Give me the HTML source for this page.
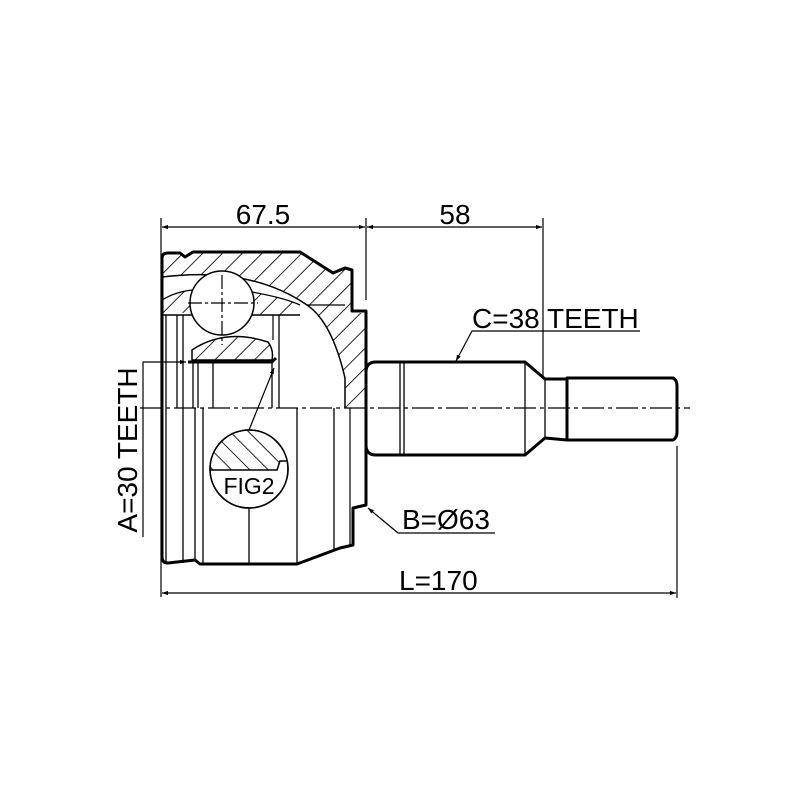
<!DOCTYPE html>
<html><head><meta charset="utf-8"><style>
html,body{margin:0;padding:0;background:#fff}
svg{display:block}
text{font-family:"Liberation Sans",Arial,sans-serif;fill:#000}
</style></head><body>
<svg width="800" height="800" viewBox="0 0 800 800" xmlns="http://www.w3.org/2000/svg">
<defs>
<pattern id="h" patternUnits="userSpaceOnUse" width="14" height="14" patternTransform="rotate(45)">
<line x1="0" y1="0" x2="0" y2="14" stroke="#000" stroke-width="1.7"/>
</pattern>
<pattern id="h2" patternUnits="userSpaceOnUse" width="13" height="13" patternTransform="rotate(-45)">
<line x1="0" y1="0" x2="0" y2="13" stroke="#000" stroke-width="1.7"/>
</pattern>
<marker id="a" viewBox="0 0 10 10" refX="10" refY="5" markerWidth="14" markerHeight="6" orient="auto-start-reverse" markerUnits="userSpaceOnUse">
<path d="M0,1.5 L10,5 L0,8.5 Z" fill="#000"/>
</marker>
</defs>
<rect width="800" height="800" fill="#fff"/>

<path d="M162,253 L180,253 L185,257 L193,252 L300,252 L333,273 L345,268 L352,270 L352,313 L366,313 L366,408 L345,408 L345,378 Q332,322 307,305 Q250,266 162,277 Z" fill="url(#h)" stroke="none"/>
<path d="M162,300 Q175,292 192,290 L192,312 L162,315 Z" fill="url(#h)"/>
<path d="M252,292 Q285,298 300,305 L300,315 L252,315 Z" fill="url(#h)"/>
<path d="M192,360 L192,350 Q225,328 268,342 Q274,350 272,360 Z" fill="url(#h)" stroke="#000" stroke-width="1.5"/>

<g fill="none" stroke="#000" stroke-linejoin="round">
<path d="M162,408 L162,258 Q162,253 168,253 L180,253 L185,257 L193,252 L300,252 L333,273 L345,268 L352,270 L352,311 L366,311 L366,505 L353,508 L353,545 L340,548 L297,564 L200,564 L195,560 L168,563 Q162,563 162,557 Z" stroke-width="3"/>
<path d="M162,277 Q250,266 307,305 Q332,322 345,378 L345,408" stroke-width="1.5"/>
<path d="M162,300 Q175,292 192,290" stroke-width="1.3"/>
<path d="M252,292 Q285,298 300,305" stroke-width="1.3"/>
<path d="M162,315 L300,315" stroke-width="1.5"/>
<line x1="307" y1="305" x2="345" y2="305" stroke-width="1.2"/>
<line x1="166" y1="315" x2="166" y2="408" stroke-width="1.3"/>
<line x1="177" y1="315" x2="177" y2="408" stroke-width="1.3"/>
<line x1="183" y1="315" x2="183" y2="408" stroke-width="1.3"/>
<line x1="193" y1="362" x2="193" y2="408" stroke-width="1.3"/>
<line x1="198" y1="362" x2="198" y2="408" stroke-width="1.3"/>
<line x1="213" y1="362" x2="213" y2="408" stroke-width="1.3"/>
<line x1="272" y1="362" x2="272" y2="408" stroke-width="1.3"/>
<line x1="279" y1="315" x2="279" y2="408" stroke-width="1.3"/>
<line x1="273" y1="315" x2="273" y2="340" stroke-width="1.2"/>
<path d="M188,362 L272,362 L276,358" stroke-width="3"/>
<circle cx="222" cy="303" r="32" fill="#fff" stroke-width="1.5"/>
<line x1="166" y1="408" x2="166" y2="563" stroke-width="1.3"/>
<line x1="183" y1="408" x2="183" y2="563" stroke-width="1.3"/>
<line x1="195" y1="408" x2="195" y2="560" stroke-width="1.3"/>
<line x1="203" y1="408" x2="203" y2="564" stroke-width="1.3"/>
<line x1="249" y1="508" x2="249" y2="564" stroke-width="1.3"/>
<line x1="297" y1="408" x2="297" y2="564" stroke-width="1.3"/>
<line x1="334" y1="408" x2="334" y2="549" stroke-width="1.3"/>
<line x1="350" y1="408" x2="350" y2="545" stroke-width="1.2"/>
<path d="M366,372 Q366,362 376,362 L525,362 L545,379 L567,379 L567,378 L673,378 Q677,380 677,386 L677,432 Q677,438 673,440 L567,440 L545,438 L525,455 L376,455 Q366,455 366,445" stroke-width="3"/>
<line x1="400" y1="362" x2="400" y2="455" stroke-width="1.3"/>
<line x1="404" y1="362" x2="404" y2="455" stroke-width="1.3"/>
<line x1="525" y1="362" x2="525" y2="455" stroke-width="1.3"/>
<line x1="545" y1="379" x2="545" y2="438" stroke-width="1.3"/>
<line x1="567" y1="378" x2="567" y2="440" stroke-width="3"/>
<line x1="140" y1="408" x2="690" y2="408" stroke-width="1.2" stroke-dasharray="22,4,4,4"/>
<line x1="188" y1="303" x2="258" y2="303" stroke-width="1.2" stroke-dasharray="14,3,3,3"/>
<line x1="222" y1="275" x2="222" y2="345" stroke-width="1.2" stroke-dasharray="14,3,3,3"/>
<line x1="161" y1="218" x2="161" y2="597" stroke-width="1.2"/>
<line x1="366" y1="218" x2="366" y2="300" stroke-width="1.2"/>
<line x1="543" y1="218" x2="543" y2="376" stroke-width="1.2"/>
<line x1="677" y1="446" x2="677" y2="598" stroke-width="1.2"/>
<line x1="162" y1="227" x2="365" y2="227" stroke-width="1.2" marker-start="url(#a)" marker-end="url(#a)"/>
<line x1="367" y1="227" x2="542" y2="227" stroke-width="1.2" marker-start="url(#a)" marker-end="url(#a)"/>
<line x1="162" y1="593" x2="676" y2="593" stroke-width="1.2" marker-start="url(#a)" marker-end="url(#a)"/>
<path d="M143,537 L143,362 L186,362" stroke-width="1.2" marker-end="url(#a)"/>
<path d="M640,331 L472,331 L456,361" stroke-width="1.2" marker-end="url(#a)"/>
<path d="M495,533 L398,533 L368,508" stroke-width="1.2" marker-end="url(#a)"/>
<path d="M249,430 L274,368" stroke-width="1.2" marker-end="url(#a)"/>
</g>
<circle cx="249" cy="469" r="39" fill="#fff" stroke="#000" stroke-width="1.5"/>
<clipPath id="fc"><circle cx="249" cy="469" r="39"/></clipPath>
<path d="M200,470 L277,470 L280,461 L300,461 L300,420 L200,420 Z" fill="url(#h2)" clip-path="url(#fc)"/>
<path d="M210,470 L277,470 L280,461 L288,461" fill="none" stroke="#000" stroke-width="1.5" clip-path="url(#fc)"/>
<circle cx="249" cy="469" r="39" fill="none" stroke="#000" stroke-width="1.5"/>
<text x="249" y="494" font-size="23" text-anchor="middle">FIG2</text>
<text x="263" y="224" font-size="28" text-anchor="middle">67.5</text>
<text x="455" y="224" font-size="28" text-anchor="middle">58</text>
<text x="472" y="328" font-size="28">C=38 TEETH</text>
<text x="402" y="529" font-size="28">B=Ø63</text>
<text x="399" y="590" font-size="28">L=170</text>
<text transform="translate(137,450) rotate(-90)" font-size="28" text-anchor="middle">A=30 TEETH</text>
</svg>
</body></html>
